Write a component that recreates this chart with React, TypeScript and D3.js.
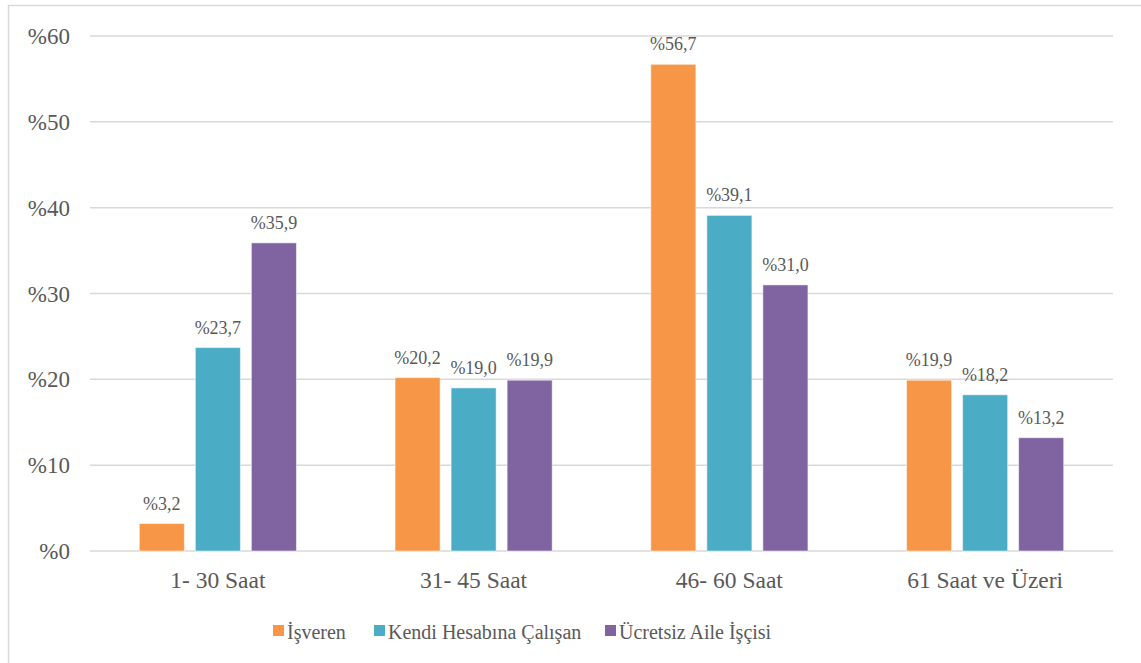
import React from "react";
import * as d3 from "d3";

const categories = ["1- 30 Saat", "31- 45 Saat", "46- 60 Saat", "61 Saat ve Üzeri"];
const seriesNames = ["İşveren", "Kendi Hesabına Çalışan", "Ücretsiz Aile İşçisi"];
const isveren = [3.2, 20.2, 56.7, 19.9];
const kendiHesabina = [23.7, 19.0, 39.1, 18.2];
const ucretsiz = [35.9, 19.9, 31.0, 13.2];
const colors = ["#F79646", "#4BACC6", "#8064A2"];
const yTicks = [0, 10, 20, 30, 40, 50, 60];

const W = 1141;
const H = 663;
const TEXT = "#595959";

export default function App() {
  const seriesValues = [isveren, kendiHesabina, ucretsiz];
  const y = d3.scaleLinear().domain([0, 60]).range([551, 36]);
  const x0 = d3.scaleBand<string>().domain(categories).range([90, 1113]).padding(0);
  const x1 = d3
    .scaleBand<string>()
    .domain(seriesNames)
    .range([0, x0.bandwidth()])
    .paddingInner(0.196)
    .paddingOuter(0.88);
  const fmt = (v: number) => "%" + v.toFixed(1).replace(".", ",");
  const legendX = [273, 374, 605];

  return (
    <svg width={W} height={H} style={{ position: "absolute", left: 0, top: 0 }} className="chart">
      <style>{`.chart text { font-family: "Liberation Serif", Tinos, "Times New Roman", serif !important; fill: ${TEXT}; }`}</style>
      <rect x={8.5} y={5.5} width={W + 10} height={H + 10} fill="#fff" stroke="#d9d9d9" strokeWidth={1.5} />
      {yTicks.map((t) => (
        <g key={t}>
          <line x1={90} x2={1113} y1={y(t)} y2={y(t)} stroke="#d9d9d9" strokeWidth={1.5} />
          <text x={70} y={y(t) + 8} textAnchor="end" fontSize={23}>
            {"%" + t}
          </text>
        </g>
      ))}
      {categories.map((c, i) => (
        <g key={c} transform={`translate(${x0(c)},0)`}>
          {seriesNames.map((s, j) => {
            const v = seriesValues[j][i];
            const bx = x1(s)!;
            return (
              <g key={s}>
                <rect
                  x={bx}
                  y={y(v)}
                  width={x1.bandwidth()}
                  height={y(0) - y(v)}
                  fill={colors[j]}
                  stroke="#ffffff"
                  strokeOpacity={0.5}
                  strokeWidth={1}
                />
                <text x={bx + x1.bandwidth() / 2} y={y(v) - 14} textAnchor="middle" fontSize={18}>
                  {fmt(v)}
                </text>
              </g>
            );
          })}
          <text x={x0.bandwidth() / 2} y={588} textAnchor="middle" fontSize={23.5}>
            {c}
          </text>
        </g>
      ))}
      {seriesNames.map((s, j) => (
        <g key={s} transform={`translate(${legendX[j]},0)`}>
          <rect x={0} y={625} width={11} height={11} fill={colors[j]} />
          <text x={14} y={639} fontSize={20}>
            {s}
          </text>
        </g>
      ))}
    </svg>
  );
}
